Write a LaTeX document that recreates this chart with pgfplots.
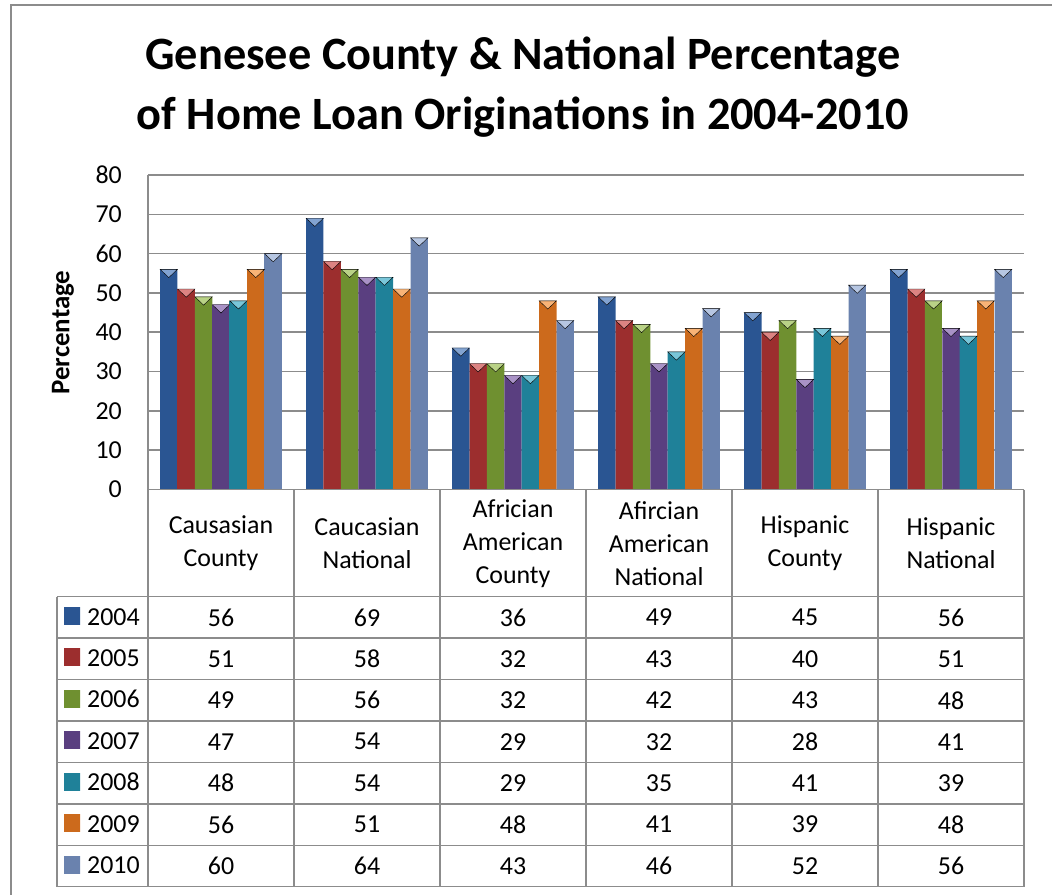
\documentclass[border=0pt]{standalone}
\usepackage{fontspec}
\setmainfont{Carlito}
\usepackage{pgfplots}
\usepackage{pgfplotstable}
\pgfplotsset{compat=1.18}

\definecolor{cA}{HTML}{3E72B8}\definecolor{cAd}{HTML}{2A5592}
\definecolor{cB}{HTML}{C9403F}\definecolor{cBd}{HTML}{9C2E2E}
\definecolor{cC}{HTML}{94BA45}\definecolor{cCd}{HTML}{6F9030}
\definecolor{cD}{HTML}{7A58A8}\definecolor{cDd}{HTML}{5A3F80}
\definecolor{cE}{HTML}{31A8C4}\definecolor{cEd}{HTML}{1F8199}
\definecolor{cF}{HTML}{F58A2C}\definecolor{cFd}{HTML}{CC6A1C}
\definecolor{cG}{HTML}{8FA8D3}\definecolor{cGd}{HTML}{6A82AE}
\definecolor{gridgray}{HTML}{8C8C8C}

\pgfplotstableread{
x y2004 y2005 y2006 y2007 y2008 y2009 y2010
0 56 51 49 47 48 56 60
1 69 58 56 54 54 51 64
2 36 32 32 29 29 48 43
3 49 43 42 32 35 41 46
4 45 40 43 28 41 39 52
5 56 51 48 41 39 48 56
}\datatable

\pgfplotsset{
  numrow/.style={draw=none, mark=none, forget plot, nodes near coords,
    point meta=explicit,
    every node near coord/.append style={anchor=center, text=black,
      font=\fontsize{26}{31}\selectfont}},
  bevel/.style 2 args={only marks, forget plot, draw=none, mark=triangle*, mark size=10bp,
    mark options={xshift=#1, yshift=-2.75bp, yscale=-0.55, fill=#2, draw=none}},
}

\begin{document}
\begin{tikzpicture}
\useasboundingbox (-148bp,-405.5bp) rectangle (904bp,489.5bp);
\begin{axis}[
  at={(0bp,0bp)}, anchor=south west,
  scale only axis, width=876bp, height=314.5bp,
  xmin=-0.5, xmax=5.5, ymin=0, ymax=80,
  clip=false,
  axis y line*=left, axis x line*=bottom,
  axis line style={draw=gridgray, line width=1.6bp},
  major tick length=0pt,
  xtick={0,...,5},
  xticklabels={{Causasian\\County},{Caucasian\\National},{Africian\\American\\County},{Afircian\\American\\National},{Hispanic\\County},{Hispanic\\National}},
  xticklabel style={anchor=center, align=center, text width=140bp,
    font=\fontsize{26}{33}\selectfont, yshift=-54bp},
  ytick={0,10,...,80},
  yticklabel style={anchor=east, inner sep=0pt, xshift=-26bp,
    font=\fontsize{26}{31}\selectfont},
  ymajorgrids,
  major grid style={draw=gridgray, line width=1.6bp},
  /pgf/number format/assume math mode=true,
  ylabel={Percentage},
  ylabel style={font=\bfseries\fontsize{27}{32}\selectfont,
    at={(axis description cs:-0.097,0.499)}, anchor=center},
  title={Genesee County \& National Percentage\\of Home Loan Originations in 2004-2010},
  title style={font=\bfseries\fontsize{46.5}{59.5}\selectfont, align=center,
    at={(axis description cs:0.428,1.1272)}, anchor=base},
  legend image code/.code={\path[#1, draw=none] (0bp,-8.5bp) rectangle (16bp,8.5bp);},
  legend style={draw=none, fill=none, inner sep=0pt, column sep=7bp,
    row sep=23.43bp, at={(-0.0959,-0.3730)}, anchor=north west,
    nodes={inner sep=0pt, text height=18bp, text depth=0bp,
      font=\fontsize{26}{31}\selectfont}},
  legend cell align=left,
]
\addplot[ybar, bar width=17.4bp, bar shift=-52.2bp, draw=none, left color=cAd, middle color=cA, right color=cAd] table[x=x,y=y2004]{\datatable};
\addlegendentry{2004}
\addplot[ybar, bar width=17.4bp, bar shift=-34.8bp, draw=none, left color=cBd, middle color=cB, right color=cBd] table[x=x,y=y2005]{\datatable};
\addlegendentry{2005}
\addplot[ybar, bar width=17.4bp, bar shift=-17.4bp, draw=none, left color=cCd, middle color=cC, right color=cCd] table[x=x,y=y2006]{\datatable};
\addlegendentry{2006}
\addplot[ybar, bar width=17.4bp, bar shift=0bp, draw=none, left color=cDd, middle color=cD, right color=cDd] table[x=x,y=y2007]{\datatable};
\addlegendentry{2007}
\addplot[ybar, bar width=17.4bp, bar shift=17.4bp, draw=none, left color=cEd, middle color=cE, right color=cEd] table[x=x,y=y2008]{\datatable};
\addlegendentry{2008}
\addplot[ybar, bar width=17.4bp, bar shift=34.8bp, draw=none, left color=cFd, middle color=cF, right color=cFd] table[x=x,y=y2009]{\datatable};
\addlegendentry{2009}
\addplot[ybar, bar width=17.4bp, bar shift=52.2bp, draw=none, left color=cGd, middle color=cG, right color=cGd] table[x=x,y=y2010]{\datatable};
\addlegendentry{2010}

\addplot[bevel={-52.2bp}{cA!65!white}] table[x=x,y=y2004]{\datatable};
\addplot[bevel={-34.8bp}{cB!65!white}] table[x=x,y=y2005]{\datatable};
\addplot[bevel={-17.4bp}{cC!65!white}] table[x=x,y=y2006]{\datatable};
\addplot[bevel={0bp}{cD!65!white}] table[x=x,y=y2007]{\datatable};
\addplot[bevel={17.4bp}{cE!65!white}] table[x=x,y=y2008]{\datatable};
\addplot[bevel={34.8bp}{cF!65!white}] table[x=x,y=y2009]{\datatable};
\addplot[bevel={52.2bp}{cG!65!white}] table[x=x,y=y2010]{\datatable};

\addplot[numrow] table[x=x, y expr=-32.54, meta=y2004]{\datatable};
\addplot[numrow] table[x=x, y expr=-43.08, meta=y2005]{\datatable};
\addplot[numrow] table[x=x, y expr=-53.62, meta=y2006]{\datatable};
\addplot[numrow] table[x=x, y expr=-64.16, meta=y2007]{\datatable};
\addplot[numrow] table[x=x, y expr=-74.70, meta=y2008]{\datatable};
\addplot[numrow] table[x=x, y expr=-85.24, meta=y2009]{\datatable};
\addplot[numrow] table[x=x, y expr=-95.78, meta=y2010]{\datatable};
\end{axis}
% data table grid
\begin{scope}[draw=gridgray, line width=1.5bp]
\draw (0bp,0bp) -- (876bp,0bp);
\foreach \k in {0,...,7} {
  \draw (-91bp,{-107.2bp-41.43bp*\k}) -- (876bp,{-107.2bp-41.43bp*\k});
}
\foreach \c in {0,...,6} {
  \draw ({146bp*\c},0bp) -- ({146bp*\c},-397.2bp);
}
\draw (-91bp,-107.2bp) -- (-91bp,-397.2bp);
\end{scope}
% outer frame
\draw[draw=gridgray, line width=1.5bp] (-137bp,-405.5bp) -- (-137bp,484.5bp) -- (904bp,484.5bp);
\end{tikzpicture}
\end{document}
